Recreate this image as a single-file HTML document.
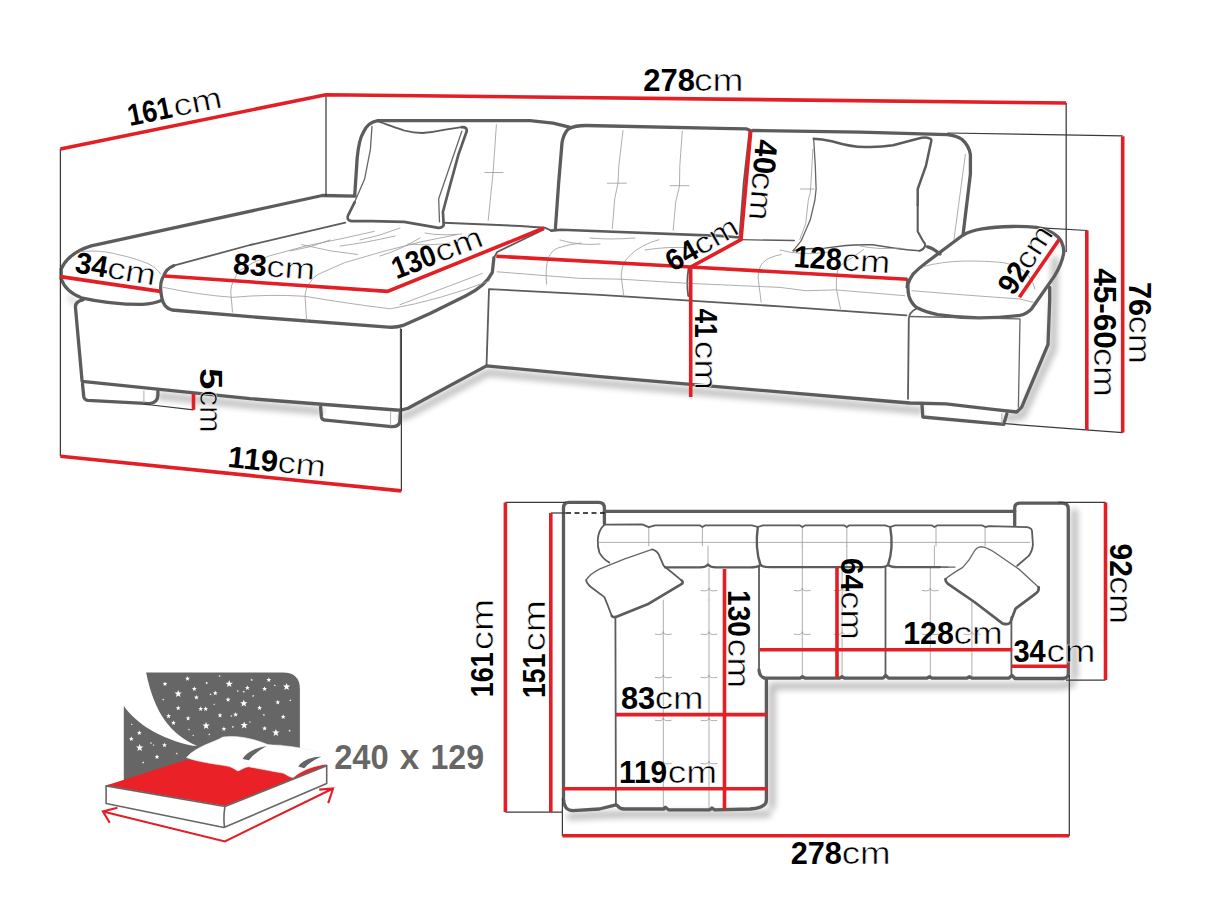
<!DOCTYPE html>
<html><head><meta charset="utf-8"><title>Sofa dimensions</title>
<style>
html,body{margin:0;padding:0;background:#fff;}
svg{display:block;}
text{font-family:"Liberation Sans",sans-serif;}
.b{font-weight:700;}
.r{font-weight:400;stroke:#fff;stroke-width:0.55;paint-order:fill stroke;}
.red{stroke:#e31e24;stroke-width:3.6;fill:none;stroke-linecap:butt;}
.thin{stroke:#3a3a3a;stroke-width:1.25;fill:none;}
.o{stroke:#5c5c5c;stroke-width:3.3;fill:none;stroke-linecap:round;stroke-linejoin:round;}
.o2{stroke:#5c5c5c;stroke-width:1.8;fill:none;stroke-linecap:round;stroke-linejoin:round;}
.m{stroke:#666;stroke-width:1.3;fill:none;stroke-linecap:round;stroke-linejoin:round;}
.l{stroke:#999;stroke-width:0.8;fill:none;stroke-linecap:round;stroke-linejoin:round;}
</style></head><body>
<svg width="1214" height="911" viewBox="0 0 1214 911">
<rect width="1214" height="911" fill="#fff"/>
<defs><filter id="sh" x="-20%" y="-20%" width="140%" height="140%"><feGaussianBlur stdDeviation="3.2"/></filter><filter id="sh2" x="-20%" y="-20%" width="140%" height="140%"><feGaussianBlur stdDeviation="2.2"/></filter></defs>
<g fill="none" stroke="#000" stroke-linecap="round" stroke-linejoin="round" filter="url(#sh)" opacity="0.26">
<path stroke-width="7" d="M160 396L250 405L320 411M402 417L410 414L488 372.5L600 383L880 407L920 410.5M1008 418L1022 416L1053 349L1055 260"/>
<path stroke-width="3" d="M69 297L76 303"/>
<path stroke-width="7" d="M570 816.5L600 815L620 814.5H750L768 814M772 806V686H1060L1072 684M1074.5 676V512"/>
</g>
<g id="persp">
<g class="o">
<path d="M61.2 278.8V269C66 258 78 250 91.2 245.9L322.3 195.5L355 196.2"/>
<path d="M61.2 278.8C64 288 72 294 81.3 297.8C100 302 125 304.5 142.3 304.4C150 304 157 302.5 162 300.3"/>
<path d="M173.6 265.7C169 267.5 165.5 270.5 163.6 276C160.5 281 160 290 162 298.6C163 304 167 308.5 172 310L250 316.7L388.2 327.1C394 327.6 399 326.8 403 325.4L430 313.5L465.9 295.7C478 290 488 281 492.3 272.6L493.9 257.8"/>
<path d="M83 299.9C77 301 75 304 75.5 308L82.1 381.4L250 398.7L396 410Q402 410.5 408 408.2L486.5 365.9L600 376.6L880 400.5L909.7 403L945.9 403.8L995.3 409.6L1016.7 412L1021.7 407.1L1048 344.5L1049.7 300V287.4"/>
<path d="M82.5 384L83.8 397Q84.5 400 87.9 400.4L148.8 403.7Q157.9 403 157.9 395V391.3"/>
<path d="M320.6 407L321.4 416.9Q321.8 419.8 325.6 420.1L391.4 426.7Q399 427 399.7 421.8L400.5 411.1"/>
<path d="M922 404.6L922.8 417L1003.6 424.4L1006.9 413.7"/>
<path d="M354.7 195.6L357.2 157.7C358.5 145 360 138 363 133C366 126 371 121.5 377.8 120.6L530 120.6L553 123.1L569.4 127.2"/>
<path d="M555.4 228.5L558.7 182.4L562 142.8C563 137 565 132 568.6 128.8C574 126 580 125.5 585.9 125.5L720 128.3L746.1 128.8L750.2 130.5"/>
<path d="M752.7 130.5L860 132.1L947.3 134.6C955 135.5 959 137 962.1 139.5C967 144 969.5 149 970.4 154.4V174.1L965.4 215.3L963 235.1"/>
<path d="M908 284.1C909 280 911 277 913 274.2C917 270 921 266.5 926.1 262.7L962.4 235.5C968 232 975 230 982.1 228.9C992 227.3 1002 226.7 1011.8 226.5C1020 226.4 1029 226.6 1036.5 227.3C1043 228.3 1048.5 230.3 1053 233.1C1057 235.5 1059.5 238 1061.2 241.3C1063 245 1064 249 1063.7 252.8C1062.5 261 1059 268.5 1054.6 275.9L1031.6 308.8C1028.5 312 1024.5 314.3 1020 315.4C1006 317.2 992 317.9 978.8 317.9C965 317.7 951 316.6 937.7 314.6C930 313 922.5 310.6 916.2 307.2C912.5 304 910 300 908.8 295.7C908 292 907.8 288 908 284.1Z"/>
<path stroke-width="2.7" d="M461.8 127.2Q467.5 127 466.7 131.3L458.5 154.4L448.6 190.6L442.9 212L443.7 225.2Q442 228.5 437.1 227.7L404.1 221.9L371.2 221.1H351.4Q346 220 348.1 215.3L354.7 202.1"/>
<path stroke-width="2.5" d="M813.7 138.7C820 139 826 140 831.8 141.2C843 144.5 854 147 864.7 147C874 147.3 884 146.8 893 145.3L917.7 138.7Q925 136.8 929.2 138.2Q932 139 931.2 141.2L925.9 165.9L917.7 189V205"/>
<path d="M927.6 246.8Q932 247.5 940 254"/>
</g>
<g class="o2">
<path d="M173.6 265.7L250 245L345.3 222.7"/>
<path d="M493.9 257.8L497.2 252L543.3 229.8"/>
<path d="M443.7 222.7L520 226L544.7 227.7L551.3 230.6" stroke-width="1.9"/>
<path d="M551.3 230.6L561.2 229.7L720 235.9L739.5 237.5" stroke-width="2.6"/>
<path d="M741 239.7L794.4 240.5" stroke-width="1.3"/>
<path d="M688.6 268Q686.3 282 688.2 296"/>
<path d="M749.4 131.3L743.7 182.4L739.5 236.7"/>
<path d="M486.5 365.9L489 289.1L600 294.8L780 306.4L906.4 315.4"/>
<path d="M916.2 308.8C911 311.5 909 315 908.8 318.7L908 398.8"/>
<path d="M907.2 279.2L906.4 287.4"/>
<path d="M917.7 205V231.6L923 240.9Q926 244 925 246.1Q923.5 250 919.7 250.7" stroke-width="2.1"/>
<path d="M919.7 250.7Q910 250.5 898.6 248.8L872.3 244.8Q858 244.5 845.9 245.5L824.8 248.1L806.4 248.8L793.2 250.7" stroke-width="1.4"/>
<path d="M377.8 121.4C386 124 395 127.5 404.1 130.5C410 132 416 133 422.3 133C430 132.5 438 131.3 445.3 129.7L461.8 127.2"/>
</g>
<g class="m">
<path d="M354.7 202.1L364.6 179.1L370.4 149.4L372 126.4"/>
<path d="M461.8 131.3L438.7 198.8L439.5 221.9"/>
<path d="M813.7 139.5L815.3 165.9L816.1 189L814.9 200L810.3 219.8L801.1 240.9L793.2 250.7"/>
<path d="M400.5 328.7V409.4"/>
<path d="M909.7 316.5L1020 318.9L1018.4 407.1"/>
</g>
<g class="l">
<path d="M143.9 391V404"/>
<path d="M390.6 412V426"/>
<path d="M1001.9 413.7V423.6"/>
<path d="M79.7 251.7C95 250 110 252 115.9 254.1C130 257 142 261 148.8 264C154 267 158 270 160.7 273.9"/>
<path d="M922.8 266.8C935 263 950 261.5 962.4 261.1C978 260.8 992 261.5 1003.6 262.7C1015 265 1024 270 1028.3 275.9C1032 280 1034 285 1034.9 289.1"/>
<path d="M912.1 290.7L962.4 294.8L1020 299L1033.2 302.3"/>
<path d="M965.4 154.4L953.9 240"/>
<path d="M496.4 124.7L493.1 172.5L488.2 220.3M484.9 172.5H503"/>
<path d="M623 130.5L618.8 165.9L618 183.2L614.7 198.8L612.3 228.5M607.3 183.2H626.3"/>
<path d="M682.3 131.3L679.8 165.9L679.5 185.7L675.7 202.1L673.2 230.1M670 185.7H688.9"/>
<path d="M812.9 149.4L810.4 192.3L808.3 200L805.7 223.7L799.8 239.5M800.5 189H814"/>
<path d="M232.5 312.1L230.8 292.4Q231 284 234.1 280.8Q236 274 239 271Q252 262 268.7 256.1L305 246.2L344.5 238L374.2 231.4"/>
<path d="M306.6 320.4L305 295.7Q306 287 310 282.5Q313 277 318.2 274.3L344.5 262.7L384 251.2L423.6 241.3L456.5 234.7"/>
<path d="M163.3 287.4Q200 295 232.5 297.3Q270 294 305 296.3Q350 304 390.6 308.8Q440 300 489.5 280.8"/>
<path d="M301.7 244.6Q330 252 357.7 254.5M290 251Q310 248 330 240M340 246Q365 243 395 236M380 256Q400 250 420 238M408 244Q430 246 450 243M360 240Q380 236 400 228M425 233Q440 236 462 234"/>
<path d="M546.6 284.1Q545 268 548.3 257.8Q552 250 558.2 247.9Q570 244 581.2 243"/>
<path d="M623.7 295.7L621.2 275.9Q622 263 627.8 257.8Q634 250 642.6 246.2Q650 242 659 239.7"/>
<path d="M761.2 302.3L758.1 278Q758.5 267 762.9 262.7Q768 257 781.2 254.5"/>
<path d="M840.5 308.8L836.4 289.1Q836 273 838.8 267.7Q844 261 852 257.8L863.6 249.5"/>
<path d="M560 240Q580 246 600 244M590 238Q610 240 635 238M645 250Q670 246 690 248M780 250Q800 256 830 252M860 246Q880 250 900 248"/>
<path d="M400 304.7L482.4 273.4"/>
<path d="M497.2 271.8L580 278.4L621.2 279.2L687.1 283.3L780 287.4L805.9 290.7L835.6 289.9L904.7 295.7"/>
</g>
</g>
<g id="plan">
<g class="l">
<path d="M599.4 542.4H1030"/>
<path d="M648.8 527V546"/>
<path d="M702.4 527V546"/>
<path d="M802.3 527V546"/>
<path d="M846.8 527V546"/>
<path d="M936 527V546"/>
<path d="M985.1 527V546"/>
<path d="M708 546V566"/>
<path d="M802.3 546V566"/>
<path d="M846.8 546V566"/>
<path d="M934.4 546V566"/>
<path d="M663.3 600V808"/>
<path d="M655.3 634.2Q663.3 635.7 663.3 631.7Q663.3 635.7 671.3 634.2"/>
<path d="M655.3 677.4Q663.3 678.9 663.3 674.9Q663.3 678.9 671.3 677.4"/>
<path d="M655.3 720.3Q663.3 721.8 663.3 717.8Q663.3 721.8 671.3 720.3"/>
<path d="M655.3 763.5Q663.3 765.0 663.3 761.0Q663.3 765.0 671.3 763.5"/>
<path d="M709 600V808"/>
<path d="M701 634.2Q709 635.7 709 631.7Q709 635.7 717 634.2"/>
<path d="M701 677.4Q709 678.9 709 674.9Q709 678.9 717 677.4"/>
<path d="M701 720.3Q709 721.8 709 717.8Q709 721.8 717 720.3"/>
<path d="M701 763.5Q709 765.0 709 761.0Q709 765.0 717 763.5"/>
<path d="M709 568V600M701 590.5Q709 592 709 588Q709 592 717 590.5"/>
<path d="M802.3 568V677"/>
<path d="M794.3 590.5Q802.3 592.0 802.3 588.0Q802.3 592.0 810.3 590.5"/>
<path d="M794.3 634.2Q802.3 635.7 802.3 631.7Q802.3 635.7 810.3 634.2"/>
<path d="M842.1 568V677"/>
<path d="M834.1 590.5Q842.1 592.0 842.1 588.0Q842.1 592.0 850.1 590.5"/>
<path d="M834.1 634.2Q842.1 635.7 842.1 631.7Q842.1 635.7 850.1 634.2"/>
<path d="M930.3 568V677"/>
<path d="M922.3 590.5Q930.3 592.0 930.3 588.0Q930.3 592.0 938.3 590.5"/>
<path d="M922.3 634.2Q930.3 635.7 930.3 631.7Q930.3 635.7 938.3 634.2"/>
<path d="M971.9 600V677"/>
<path d="M963.9 634.2Q971.9 635.7 971.9 631.7Q971.9 635.7 979.9 634.2"/>
</g>
<g fill="#fff" stroke="none">
<path d="M586.2 579.8Q590 574 599.4 569.1L624.1 559.2L652.1 549.3Q656 550 658.7 554.3L663.7 565.8L681.8 580.6Q683.5 582.5 681.8 583.9L648.8 603.7L615.9 616.9Q613 617.5 611.8 616L607.7 605.3L604.4 597.1L591.2 587.2Q586 583 586.2 579.8Z"/>
<path d="M981 546.8Q986 547 992.5 551L1018.8 569.1L1038.6 587.2Q1039.5 591 1035.3 593.8L1015.6 608.6L1010.6 621.8Q1008.5 625.5 1002.4 623.4L974.4 602L948 583.9Q945 581.5 945.5 579Q950 575 962.8 567.4Q970 560 974.4 551Q977 547 981 546.8Z"/>
</g>
<g class="m">
<path d="M586.2 579.8Q590 574 599.4 569.1L624.1 559.2L652.1 549.3"/>
<path d="M981 546.8Q986 547 992.5 551L1018.8 569.1L1038.6 587.2"/>
<path d="M945.5 579Q950 575 962.8 567.4Q970 560 974.4 551Q977 547 981 546.8"/>
<path d="M940 567.1H955"/>
<path d="M940 567.1H948"/>
</g>
<g class="o2">
<path d="M604.4 524.6L642.3 524.3L648.8 527.1L655 525.4H700L702.4 527L705 525.4H752L757.8 527L763 525.4H800L802.3 527L805 525.4H844L846.8 527L849 525.4H885L890.2 527L895 525.4H932L934.4 527L937 525.4H982L985.5 527L989 526.2L1027.1 527.1Q1032 528 1032 531.2L1032.9 544.4Q1032.5 551 1028.7 555.9L1017.2 565.8"/>
<path d="M604.4 524.6Q598.5 530 597.8 539.4Q597.5 547 599.4 552.6Q603 559 609.3 562.5"/>
<path d="M615.4 617.7L615.9 804.8"/>
<path d="M759 567V670"/>
<path d="M885.5 567V675.5"/>
<path d="M1011.4 616.9V675.5"/>
<path d="M652.1 549.3Q656 550 658.7 554.3L663.7 565.8L681.8 580.6"/>
<path d="M611.8 616L607.7 605.3L604.4 597.1L591.2 587.2Q586 583 586.2 579.8"/>
</g>
<g class="o">
<path d="M604.4 523.8V508Q604.4 502.4 598.5 502.4H569Q563.5 502.4 563.5 508V799Q564 810.6 573 810.6L599.4 809L615.9 804.8L617.5 805.7Q620 809 624.1 809H663.7L665.3 807.3L668.6 809.8H709.8L712 808L714.7 809.8L750 809Q766.4 808 766.4 800V679.8"/>
<path d="M604.4 511.4H1014.7"/>
<path d="M1014.7 525.4V508Q1014.7 503.2 1020 503.2H1062Q1068.3 503.2 1068.3 509V674Q1068.3 678 1063 678.5"/>
<path d="M759 670Q759.5 677 764.7 678.1H800L802.5 676.6L805 678.1H839.5L842 676.6L844.5 678.1H883L885.7 675.5L888.5 678.1H927L929.5 676.6L932 678.1H967L969.4 676.6L972 678.1H1009L1012 675.5L1015 678.5H1063"/>
<path d="M757.8 527C756 540 757 555 760.5 565" stroke-width="2.4"/>
<path d="M890.2 527C892.5 540 891.5 555 888 565" stroke-width="2.4"/>
<path stroke-width="2.3" d="M665 567.4H700Q705.5 567.4 708 564.5Q710.5 567.4 716 567.4H750Q757 567.4 760.5 565Q763 567.1 770 567.1H882Q886 567.1 888 565Q891 567.1 897 567.1H940"/>
<path stroke-width="2.7" d="M681.8 580.6Q683.5 582.5 681.8 583.9L648.8 603.7L615.9 616.9Q613 617.5 611.8 616"/>
<path stroke-width="2.7" d="M1038.6 587.2Q1039.5 591 1035.3 593.8L1015.6 608.6L1010.6 621.8Q1008.5 625.5 1002.4 623.4L974.4 602L948 583.9Q945 581.5 945.5 579"/>
</g>
</g>
<g id="bed">
<path fill="#666" d="M146.1 672.4L282.8 672.4Q299.9 672.4 299.9 688.9L299.9 779.9L123.8 779.9L123.8 706.0C137.1 724.3 160.7 739.2 192.8 745.7L197.1 745.7C171.4 735.0 154.3 713.5 146.1 672.4Z"/>
<g fill="#fff">
<polygon points="165.0,681.4 165.6,683.1 167.4,683.2 166.0,684.3 166.5,686.1 165.0,685.1 163.5,686.1 164.0,684.3 162.6,683.2 164.4,683.1"/>
<polygon points="187.5,676.0 188.1,677.7 189.9,677.8 188.5,678.9 189.0,680.7 187.5,679.7 186.0,680.7 186.5,678.9 185.1,677.8 186.9,677.7"/>
<polygon points="206.7,681.6 207.1,682.6 208.1,682.6 207.3,683.3 207.6,684.3 206.7,683.7 205.8,684.3 206.1,683.3 205.3,682.6 206.3,682.6"/>
<polygon points="219.6,674.8 219.9,675.7 220.8,675.7 220.1,676.3 220.4,677.1 219.6,676.6 218.8,677.1 219.1,676.3 218.4,675.7 219.3,675.7"/>
<polygon points="229.2,680.1 230.2,682.7 232.9,682.8 230.7,684.5 231.5,687.1 229.2,685.6 226.9,687.1 227.7,684.5 225.5,682.8 228.2,682.7"/>
<polygon points="251.7,678.4 252.1,679.4 253.1,679.4 252.3,680.1 252.6,681.1 251.7,680.5 250.8,681.1 251.1,680.1 250.3,679.4 251.3,679.4"/>
<polygon points="268.8,677.3 269.4,679.0 271.2,679.1 269.8,680.2 270.3,682.0 268.8,681.0 267.3,682.0 267.8,680.2 266.4,679.1 268.2,679.0"/>
<polygon points="286.6,682.9 287.6,685.5 290.3,685.6 288.1,687.3 288.9,689.9 286.6,688.4 284.3,689.9 285.1,687.3 282.9,685.6 285.6,685.5"/>
<polygon points="274.8,684.0 275.1,684.9 276.0,684.9 275.3,685.5 275.6,686.3 274.8,685.8 274.0,686.3 274.3,685.5 273.6,684.9 274.5,684.9"/>
<polygon points="178.2,689.9 179.2,692.5 181.9,692.6 179.7,694.3 180.5,696.9 178.2,695.4 175.9,696.9 176.7,694.3 174.5,692.6 177.2,692.5"/>
<polygon points="194.3,686.3 194.9,688.0 196.7,688.1 195.3,689.2 195.8,691.0 194.3,690.0 192.8,691.0 193.3,689.2 191.9,688.1 193.7,688.0"/>
<polygon points="196.4,694.9 197.0,696.6 198.8,696.7 197.4,697.8 197.9,699.6 196.4,698.6 194.9,699.6 195.4,697.8 194.0,696.7 195.8,696.6"/>
<polygon points="215.3,690.6 215.9,692.3 217.7,692.4 216.3,693.5 216.8,695.3 215.3,694.3 213.8,695.3 214.3,693.5 212.9,692.4 214.7,692.3"/>
<polygon points="210.6,693.0 210.9,693.9 211.8,693.9 211.1,694.5 211.4,695.3 210.6,694.8 209.8,695.3 210.1,694.5 209.4,693.9 210.3,693.9"/>
<polygon points="247.4,685.2 248.0,686.9 249.8,687.0 248.4,688.1 248.9,689.9 247.4,688.9 245.9,689.9 246.4,688.1 245.0,687.0 246.8,686.9"/>
<polygon points="237.8,689.8 238.1,690.7 239.0,690.7 238.3,691.3 238.6,692.1 237.8,691.6 237.0,692.1 237.3,691.3 236.6,690.7 237.5,690.7"/>
<polygon points="243.8,690.4 244.1,691.3 245.0,691.3 244.3,691.9 244.6,692.7 243.8,692.2 243.0,692.7 243.3,691.9 242.6,691.3 243.5,691.3"/>
<polygon points="264.6,686.3 265.2,688.0 267.0,688.1 265.6,689.2 266.1,691.0 264.6,690.0 263.1,691.0 263.6,689.2 262.2,688.1 264.0,688.0"/>
<polygon points="253.2,694.7 253.5,695.6 254.4,695.6 253.7,696.2 254.0,697.0 253.2,696.5 252.4,697.0 252.7,696.2 252.0,695.6 252.9,695.6"/>
<polygon points="163.2,698.3 163.5,699.2 164.4,699.2 163.7,699.8 164.0,700.6 163.2,700.1 162.4,700.6 162.7,699.8 162.0,699.2 162.9,699.2"/>
<polygon points="178.2,705.6 178.8,707.3 180.6,707.4 179.2,708.5 179.7,710.3 178.2,709.3 176.7,710.3 177.2,708.5 175.8,707.4 177.6,707.3"/>
<polygon points="200.7,706.2 201.3,707.9 203.1,708.0 201.7,709.1 202.2,710.9 200.7,709.9 199.2,710.9 199.7,709.1 198.3,708.0 200.1,707.9"/>
<polygon points="205.7,706.2 206.3,707.9 208.1,708.0 206.7,709.1 207.2,710.9 205.7,709.9 204.2,710.9 204.7,709.1 203.3,708.0 205.1,707.9"/>
<polygon points="214.2,703.2 214.5,703.9 215.2,704.0 214.6,704.4 214.8,705.2 214.2,704.7 213.6,705.2 213.8,704.4 213.2,704.0 213.9,703.9"/>
<polygon points="228.1,697.0 228.7,698.7 230.5,698.8 229.1,699.9 229.6,701.7 228.1,700.7 226.6,701.7 227.1,699.9 225.7,698.8 227.5,698.7"/>
<polygon points="243.8,699.6 244.8,702.2 247.5,702.3 245.3,704.0 246.1,706.6 243.8,705.1 241.5,706.6 242.3,704.0 240.1,702.3 242.8,702.2"/>
<polygon points="259.6,705.2 260.2,706.9 262.0,707.0 260.6,708.1 261.1,709.9 259.6,708.9 258.1,709.9 258.6,708.1 257.2,707.0 259.0,706.9"/>
<polygon points="277.8,699.8 278.4,701.5 280.2,701.6 278.8,702.7 279.3,704.5 277.8,703.5 276.3,704.5 276.8,702.7 275.4,701.6 277.2,701.5"/>
<polygon points="290.3,699.0 290.6,699.9 291.5,699.9 290.8,700.5 291.1,701.3 290.3,700.8 289.5,701.3 289.8,700.5 289.1,699.9 290.0,699.9"/>
<polygon points="168.6,713.5 169.2,715.2 171.0,715.3 169.6,716.4 170.1,718.2 168.6,717.2 167.1,718.2 167.6,716.4 166.2,715.3 168.0,715.2"/>
<polygon points="173.5,720.2 174.1,721.9 175.9,722.0 174.5,723.1 175.0,724.9 173.5,723.9 172.0,724.9 172.5,723.1 171.1,722.0 172.9,721.9"/>
<polygon points="188.1,715.7 188.7,717.4 190.5,717.5 189.1,718.6 189.6,720.4 188.1,719.4 186.6,720.4 187.1,718.6 185.7,717.5 187.5,717.4"/>
<polygon points="220.0,712.7 220.6,714.4 222.4,714.5 221.0,715.6 221.5,717.4 220.0,716.4 218.5,717.4 219.0,715.6 217.6,714.5 219.4,714.4"/>
<polygon points="231.4,714.8 231.7,715.7 232.6,715.7 231.9,716.3 232.2,717.1 231.4,716.6 230.6,717.1 230.9,716.3 230.2,715.7 231.1,715.7"/>
<polygon points="235.6,712.0 236.2,713.7 238.0,713.8 236.6,714.9 237.1,716.7 235.6,715.7 234.1,716.7 234.6,714.9 233.2,713.8 235.0,713.7"/>
<polygon points="263.9,713.7 264.2,714.6 265.1,714.6 264.4,715.2 264.7,716.0 263.9,715.5 263.1,716.0 263.4,715.2 262.7,714.6 263.6,714.6"/>
<polygon points="283.2,714.2 283.8,715.9 285.6,716.0 284.2,717.1 284.7,718.9 283.2,717.9 281.7,718.9 282.2,717.1 280.8,716.0 282.6,715.9"/>
<polygon points="189.0,728.3 189.3,729.2 190.2,729.2 189.5,729.8 189.8,730.6 189.0,730.1 188.2,730.6 188.5,729.8 187.8,729.2 188.7,729.2"/>
<polygon points="193.2,734.3 193.5,735.0 194.2,735.1 193.6,735.5 193.8,736.3 193.2,735.8 192.6,736.3 192.8,735.5 192.2,735.1 192.9,735.0"/>
<polygon points="206.1,721.9 207.1,724.5 209.8,724.6 207.6,726.3 208.4,728.9 206.1,727.4 203.8,728.9 204.6,726.3 202.4,724.6 205.1,724.5"/>
<polygon points="223.9,726.4 224.5,728.1 226.3,728.2 224.9,729.3 225.4,731.1 223.9,730.1 222.4,731.1 222.9,729.3 221.5,728.2 223.3,728.1"/>
<polygon points="232.9,725.7 233.2,726.6 234.1,726.6 233.4,727.2 233.7,728.0 232.9,727.5 232.1,728.0 232.4,727.2 231.7,726.6 232.6,726.6"/>
<polygon points="244.2,721.4 245.2,724.0 247.9,724.1 245.7,725.8 246.5,728.4 244.2,726.9 241.9,728.4 242.7,725.8 240.5,724.1 243.2,724.0"/>
<polygon points="250.0,721.0 250.3,721.7 251.0,721.8 250.4,722.2 250.6,723.0 250.0,722.5 249.4,723.0 249.6,722.2 249.0,721.8 249.7,721.7"/>
<polygon points="264.6,725.9 265.2,727.6 267.0,727.7 265.6,728.8 266.1,730.6 264.6,729.6 263.1,730.6 263.6,728.8 262.2,727.7 264.0,727.6"/>
<polygon points="275.9,728.9 276.9,731.5 279.6,731.6 277.4,733.3 278.2,735.9 275.9,734.4 273.6,735.9 274.4,733.3 272.2,731.6 274.9,731.5"/>
<polygon points="289.6,729.4 289.9,730.3 290.8,730.3 290.1,730.9 290.4,731.7 289.6,731.2 288.8,731.7 289.1,730.9 288.4,730.3 289.3,730.3"/>
<polygon points="131.8,723.2 132.1,723.9 132.8,724.0 132.2,724.4 132.4,725.2 131.8,724.7 131.2,725.2 131.4,724.4 130.8,724.0 131.5,723.9"/>
<polygon points="139.3,730.2 139.9,731.9 141.7,732.0 140.3,733.1 140.8,734.9 139.3,733.9 137.8,734.9 138.3,733.1 136.9,732.0 138.7,731.9"/>
<polygon points="131.3,736.2 131.9,737.9 133.7,738.0 132.3,739.1 132.8,740.9 131.3,739.9 129.8,740.9 130.3,739.1 128.9,738.0 130.7,737.9"/>
<polygon points="139.7,743.9 140.7,746.5 143.4,746.6 141.2,748.3 142.0,750.9 139.7,749.4 137.4,750.9 138.2,748.3 136.0,746.6 138.7,746.5"/>
<polygon points="151.0,741.8 151.3,742.7 152.2,742.7 151.5,743.3 151.8,744.1 151.0,743.6 150.2,744.1 150.5,743.3 149.8,742.7 150.7,742.7"/>
<polygon points="153.6,744.1 153.9,744.8 154.6,744.9 154.0,745.3 154.2,746.1 153.6,745.6 153.0,746.1 153.2,745.3 152.6,744.9 153.3,744.8"/>
<polygon points="164.5,742.6 165.1,744.3 166.9,744.4 165.5,745.5 166.0,747.3 164.5,746.3 163.0,747.3 163.5,745.5 162.1,744.4 163.9,744.3"/>
<polygon points="157.0,754.2 157.6,755.9 159.4,756.0 158.0,757.1 158.5,758.9 157.0,757.9 155.5,758.9 156.0,757.1 154.6,756.0 156.4,755.9"/>
<polygon points="176.7,752.3 177.0,753.2 177.9,753.2 177.2,753.8 177.5,754.6 176.7,754.1 175.9,754.6 176.2,753.8 175.5,753.2 176.4,753.2"/>
<polygon points="143.1,761.1 143.4,762.0 144.3,762.0 143.6,762.6 143.9,763.4 143.1,762.9 142.3,763.4 142.6,762.6 141.9,762.0 142.8,762.0"/>
<polygon points="209.3,733.0 209.6,733.9 210.5,733.9 209.8,734.5 210.1,735.3 209.3,734.8 208.5,735.3 208.8,734.5 208.1,733.9 209.0,733.9"/>
</g>
<path fill="#fff" stroke="#666" stroke-width="1.6" stroke-linejoin="round" d="M106.1 785.9 106.1 803.5 223.9 827.5 326.7 783.6 326.7 765.4Z"/>
<path fill="#ea2227" d="M106.1 785.5 186.4 759.8 326.7 765.4 224.9 806.1Z"/>
<path fill="none" stroke="#666" stroke-width="1.6" stroke-linejoin="round" d="M106.1 785.9 224.9 806.5 326.7 765.8M224.9 806.5Q223.2 817.4 224.5 827.5"/>
<path fill="#fff" stroke="#eee" stroke-width="0.6" d="M186.4 757.5C197.1 745.7 214.2 742.5 222.8 737.1C235.6 735.0 252.8 738.2 267.8 744.6C276.3 745.7 280.6 744.6 282.8 745.7C295.6 746.7 317.0 750.0 327.7 757.5C328.8 760.7 323.5 762.8 321.3 764.9C310.6 767.1 299.9 771.4 293.5 777.4C289.2 777.8 287.0 774.6 282.8 773.1C269.9 770.9 257.1 768.2 248.5 766.7C244.2 767.1 241.0 770.3 237.8 770.9C234.6 769.2 231.4 766.7 227.1 766.0C214.2 763.9 197.1 761.7 186.4 757.5Z"/>
<path fill="#666" d="M242.5 759.0Q248.5 748.9 266.7 746.1Q254.9 752.5 248.9 760.2Z M298.2 766.4Q304.2 757.5 321.3 756.4Q310.6 761.1 304.2 768.2Z" />
<path fill="none" stroke="#e31e24" stroke-width="2.1" stroke-linejoin="miter" d="M117.4 807.8 102.9 811.4 109.7 822.8M102.9 811.4 224.9 841.4 333.1 788.5M319.2 789.6 333.1 788.5 328.2 803.1"/>
</g>
<g font-size="34.5" fill="#666" class="b"><text x="334.2" y="769.4" textLength="54.5" lengthAdjust="spacingAndGlyphs">240</text><text x="399.7" y="769.4" textLength="19.5" lengthAdjust="spacingAndGlyphs">x</text><text x="430.5" y="769.4" textLength="53.5" lengthAdjust="spacingAndGlyphs">129</text></g>
<g class="thin">
<path d="M60.4 149V456.3"/>
<path d="M326 94.7V196"/>
<path d="M401.4 329V491"/>
<path d="M143 404L193.5 409.8"/>
<path d="M1066.2 103V252"/>
<path d="M947.4 133L1122.7 135.8"/>
<path d="M1041 227.8L1087.5 230.5"/>
<path d="M1005 423.7L1122.7 432.6"/>
<path d="M505.4 502.4H566"/>
<path d="M550.8 513H566"/>
<path d="M566 513H604.5" stroke-dasharray="5 3.5" stroke="#111" stroke-width="1.4"/>
<path d="M505.4 812H563"/>
<path d="M562.4 798V836"/>
<path d="M1058.4 502.4H1105.5"/>
<path d="M1066 680H1105.5"/>
<path d="M1069.3 675V836"/>
</g>
<g class="red">
<path d="M60.4 149L326 94.7L1066.2 103"/>
<path d="M60.4 276.6L160.3 291.4"/>
<path d="M164.5 276L387.5 291.4L544 228"/>
<path d="M496.3 256.2L690.7 267L907.3 279.2"/>
<path d="M690.7 267L741 239.7L750.8 130.3"/>
<path d="M690.7 267V397"/>
<path d="M1019.4 297.3L1059 239.7"/>
<path d="M1086.8 230.5V430"/>
<path d="M1122.7 136.2V432.6"/>
<path d="M193.5 393.7V409.8"/>
<path d="M60.4 456.3L401.4 490.9"/>
<path d="M505.4 502.4V812"/>
<path d="M550.8 513V812"/>
<path d="M724.5 569V809.5"/>
<path d="M616 714.6H767"/>
<path d="M562.4 788.7H767.3"/>
<path d="M759.4 649.7H1012.3"/>
<path d="M837 567.3V678"/>
<path d="M1011.6 666.2H1069"/>
<path d="M1105.5 502.4V680"/>
<path d="M562.4 835.8H1069.3"/>
</g>
<g transform="translate(131.3,125.6) rotate(-11.3)" font-size="30.5" fill="#000"><text class="b" x="-1.69" textLength="44.84" lengthAdjust="spacingAndGlyphs">161</text><text class="r" x="45.15" textLength="48.77" lengthAdjust="spacingAndGlyphs">cm</text></g>
<g transform="translate(644.4,90.9) rotate(0)" font-size="31.5" fill="#000"><text class="b" x="-1.07" textLength="51.63" lengthAdjust="spacingAndGlyphs">278</text><text class="r" x="49.52" textLength="49.53" lengthAdjust="spacingAndGlyphs">cm</text></g>
<g transform="translate(74.7,272.3) rotate(9.5)" font-size="30" fill="#000"><text class="b" x="-0.67" textLength="32.53" lengthAdjust="spacingAndGlyphs">34</text><text class="r" x="31.63" textLength="49.09" lengthAdjust="spacingAndGlyphs">cm</text></g>
<g transform="translate(233.4,273.8) rotate(4.2)" font-size="30" fill="#000"><text class="b" x="-0.96" textLength="33.65" lengthAdjust="spacingAndGlyphs">83</text><text class="r" x="32.34" textLength="48.98" lengthAdjust="spacingAndGlyphs">cm</text></g>
<g transform="translate(398,278.7) rotate(-21)" font-size="30.5" fill="#000"><text class="b" x="-1.70" textLength="45.11" lengthAdjust="spacingAndGlyphs">130</text><text class="r" x="44.24" textLength="48.98" lengthAdjust="spacingAndGlyphs">cm</text></g>
<g transform="translate(673.7,271.7) rotate(-30)" font-size="30" fill="#000"><text class="b" x="-1.06" textLength="32.22" lengthAdjust="spacingAndGlyphs">64</text><text class="r" x="30.71" textLength="46.81" lengthAdjust="spacingAndGlyphs">cm</text></g>
<g transform="translate(756,139.3) rotate(95.2)" font-size="31.5" fill="#000"><text class="b" x="-0.46" textLength="34.23" lengthAdjust="spacingAndGlyphs">40</text><text class="r" x="31.95" textLength="48.77" lengthAdjust="spacingAndGlyphs">cm</text></g>
<g transform="translate(695.4,308.9) rotate(90)" font-size="31.5" fill="#000"><text class="b" x="-0.40" textLength="29.23" lengthAdjust="spacingAndGlyphs">41</text><text class="r" x="31.93" textLength="49.31" lengthAdjust="spacingAndGlyphs">cm</text></g>
<g transform="translate(795,267.2) rotate(3.7)" font-size="31" fill="#000"><text class="b" x="-1.81" textLength="48.00" lengthAdjust="spacingAndGlyphs">128</text><text class="r" x="46.46" textLength="48.33" lengthAdjust="spacingAndGlyphs">cm</text></g>
<g transform="translate(1014,295.8) rotate(-57.2)" font-size="30" fill="#000"><text class="b" x="-0.97" textLength="31.09" lengthAdjust="spacingAndGlyphs">92</text><text class="r" x="29.06" textLength="45.17" lengthAdjust="spacingAndGlyphs">cm</text></g>
<g transform="translate(1093.5,268.6) rotate(90)" font-size="31.5" fill="#000"><text class="b" x="-0.48" textLength="80.77" lengthAdjust="spacingAndGlyphs">45-60</text><text class="r" x="79.45" textLength="48.66" lengthAdjust="spacingAndGlyphs">cm</text></g>
<g transform="translate(1128.9,283.2) rotate(90)" font-size="32" fill="#000"><text class="b" x="-1.32" textLength="34.02" lengthAdjust="spacingAndGlyphs">76</text><text class="r" x="32.57" textLength="48.11" lengthAdjust="spacingAndGlyphs">cm</text></g>
<g transform="translate(200,369.2) rotate(90)" font-size="31" fill="#000"><text class="b" x="-1.19" textLength="21.46" lengthAdjust="spacingAndGlyphs">5</text><text class="r" x="20.84" textLength="42.67" lengthAdjust="spacingAndGlyphs">cm</text></g>
<g transform="translate(229,467) rotate(5.9)" font-size="30" fill="#000"><text class="b" x="-1.90" textLength="50.21" lengthAdjust="spacingAndGlyphs">119</text><text class="r" x="47.95" textLength="48.55" lengthAdjust="spacingAndGlyphs">cm</text></g>
<g transform="translate(493.1,695.6) rotate(-90)" font-size="31" fill="#000"><text class="b" x="-1.71" textLength="45.26" lengthAdjust="spacingAndGlyphs">161</text><text class="r" x="45.47" textLength="51.27" lengthAdjust="spacingAndGlyphs">cm</text></g>
<g transform="translate(544.5,696.3) rotate(-90)" font-size="31" fill="#000"><text class="b" x="-1.68" textLength="44.52" lengthAdjust="spacingAndGlyphs">151</text><text class="r" x="44.77" textLength="51.27" lengthAdjust="spacingAndGlyphs">cm</text></g>
<g transform="translate(728.4,591.8) rotate(90)" font-size="32" fill="#000"><text class="b" x="-1.77" textLength="46.82" lengthAdjust="spacingAndGlyphs">130</text><text class="r" x="46.71" textLength="49.75" lengthAdjust="spacingAndGlyphs">cm</text></g>
<g transform="translate(840.8,559) rotate(90)" font-size="32" fill="#000"><text class="b" x="-1.09" textLength="33.26" lengthAdjust="spacingAndGlyphs">64</text><text class="r" x="32.25" textLength="48.77" lengthAdjust="spacingAndGlyphs">cm</text></g>
<g transform="translate(622,708.7) rotate(0)" font-size="31.5" fill="#000"><text class="b" x="-0.97" textLength="34.18" lengthAdjust="spacingAndGlyphs">83</text><text class="r" x="32.74" textLength="48.87" lengthAdjust="spacingAndGlyphs">cm</text></g>
<g transform="translate(620.8,782.6) rotate(0)" font-size="31" fill="#000"><text class="b" x="-1.82" textLength="48.19" lengthAdjust="spacingAndGlyphs">119</text><text class="r" x="47.03" textLength="49.31" lengthAdjust="spacingAndGlyphs">cm</text></g>
<g transform="translate(905.1,643.5) rotate(0)" font-size="30.5" fill="#000"><text class="b" x="-1.91" textLength="50.65" lengthAdjust="spacingAndGlyphs">128</text><text class="r" x="48.53" textLength="49.31" lengthAdjust="spacingAndGlyphs">cm</text></g>
<g transform="translate(1014.1,662) rotate(0)" font-size="31" fill="#000"><text class="b" x="-0.66" textLength="32.22" lengthAdjust="spacingAndGlyphs">34</text><text class="r" x="32.33" textLength="49.09" lengthAdjust="spacingAndGlyphs">cm</text></g>
<g transform="translate(1110.2,544.5) rotate(90)" font-size="31.5" fill="#000"><text class="b" x="-1.04" textLength="33.34" lengthAdjust="spacingAndGlyphs">92</text><text class="r" x="31.77" textLength="48.00" lengthAdjust="spacingAndGlyphs">cm</text></g>
<g transform="translate(791.7,863.8) rotate(0)" font-size="31.5" fill="#000"><text class="b" x="-1.06" textLength="51.21" lengthAdjust="spacingAndGlyphs">278</text><text class="r" x="49.94" textLength="48.98" lengthAdjust="spacingAndGlyphs">cm</text></g>
</svg>
</body></html>
